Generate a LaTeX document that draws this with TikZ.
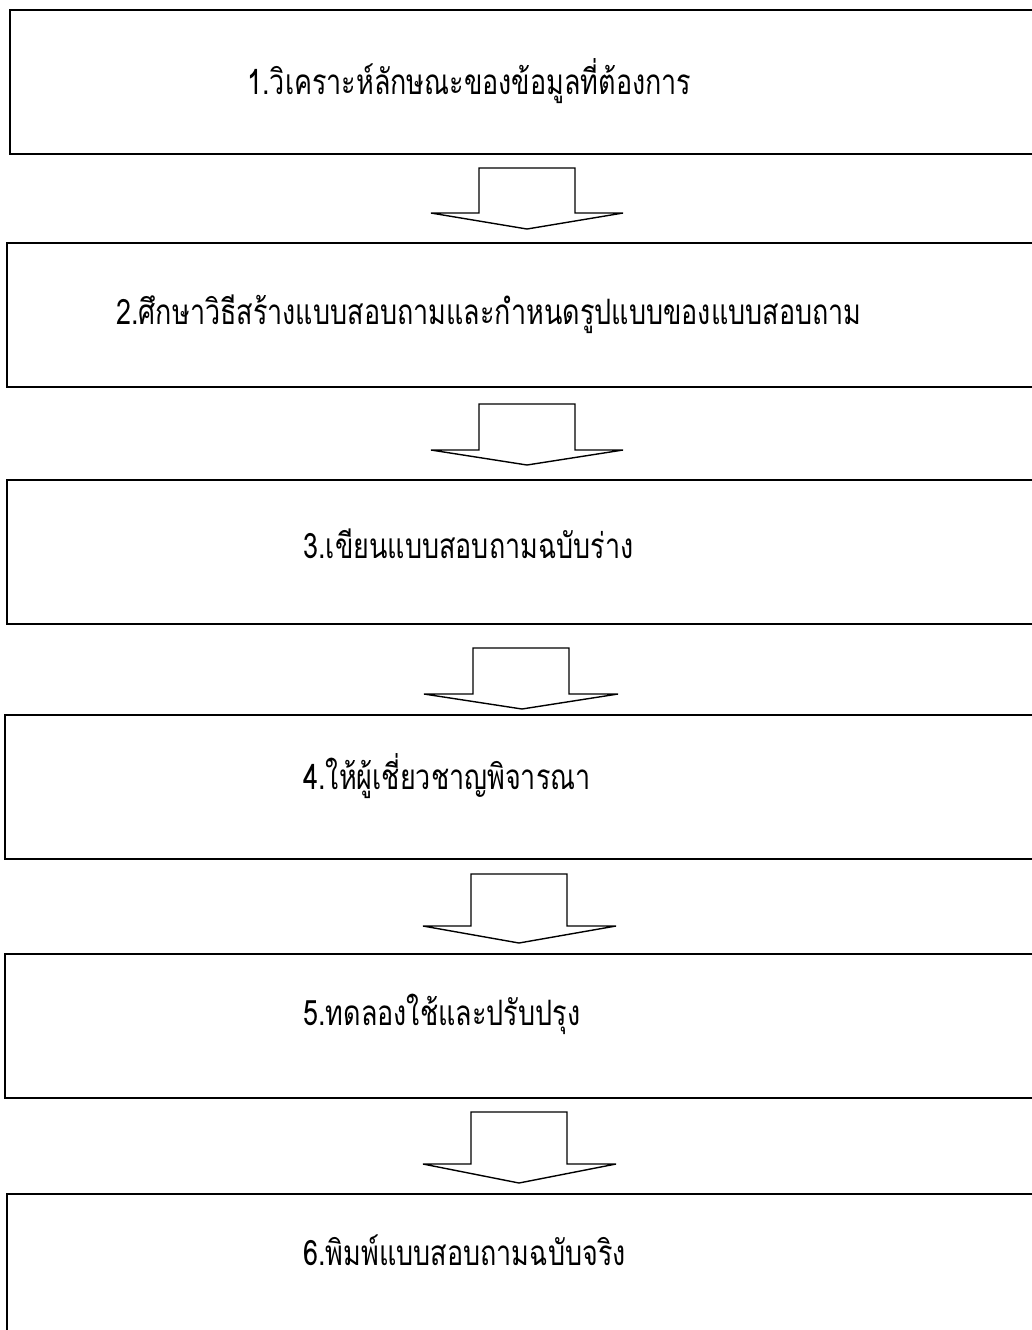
\documentclass[tikz,border=0pt]{standalone}
\usepackage{fontspec}
\newfontfamily\thaifont[Script=Thai,FakeStretch=0.77]{Loma}
\usetikzlibrary{positioning}

\tikzset{
    box/.style={draw, line width=1pt, rectangle, anchor=north west, minimum width=540pt, minimum height=72pt, inner sep=0pt, outer sep=0pt},
    steptext/.style={anchor=base west, inner sep=0pt, font=\thaifont\fontsize{17.5}{20}\selectfont},
    arrowline/.style={draw, line width=0.7pt, line join=miter}
}

\begin{document}
\begin{tikzpicture}[x=0.5pt, y=-0.5pt]
        
        \useasboundingbox (0,0) rectangle (1032,1330);
        \clip (0,0) rectangle (1032,1330); % i box escono a destra
        
        % Riquadri
        \node[box] (b1) at (10,10) {};
        \node[box] (b2) at (7,243) {};
        \node[box] (b3) at (7,480) {};
        \node[box] (b4) at (5,715) {};
        \node[box] (b5) at (5,954) {};
        \node[box] (b6) at (7,1194) {};
        
        % Testi
        \node[steptext] (t1) at (247,94) {1.วิเคราะห์ลักษณะของข้อมูลที่ต้องการ};
        \node[steptext] (t2) at (116,324) {2.ศึกษาวิธีสร้างแบบสอบถามและกำหนดรูปแบบของแบบสอบถาม};
        \node[steptext] (t3) at (303,558) {3.เขียนแบบสอบถามฉบับร่าง};
        \node[steptext] (t4) at (303,789) {4.ให้ผู้เชี่ยวชาญพิจารณา};
        \node[steptext] (t5) at (303,1025) {5.ทดลองใช้และปรับปรุง};
        \node[steptext] (t6) at (303,1265) {6.พิมพ์แบบสอบถามฉบับจริง};
        
        % Frecce
        \draw[arrowline] (479,168) -- (479,213) -- (431,213) -- (527,229) -- (623,213) -- (575,213) -- (575,168) -- cycle;
        \draw[arrowline] (479,404) -- (479,450) -- (431,450) -- (527,465) -- (623,450) -- (575,450) -- (575,404) -- cycle;
        \draw[arrowline] (473,648) -- (473,694) -- (424,694) -- (522,709) -- (618,694) -- (569,694) -- (569,648) -- cycle;
        \draw[arrowline] (471,874) -- (471,926) -- (423,926) -- (519,943) -- (616,926) -- (567,926) -- (567,874) -- cycle;
        \draw[arrowline] (471,1112) -- (471,1164) -- (423,1164) -- (519,1183) -- (616,1164) -- (567,1164) -- (567,1112) -- cycle;
    \end{tikzpicture}
\end{document}
